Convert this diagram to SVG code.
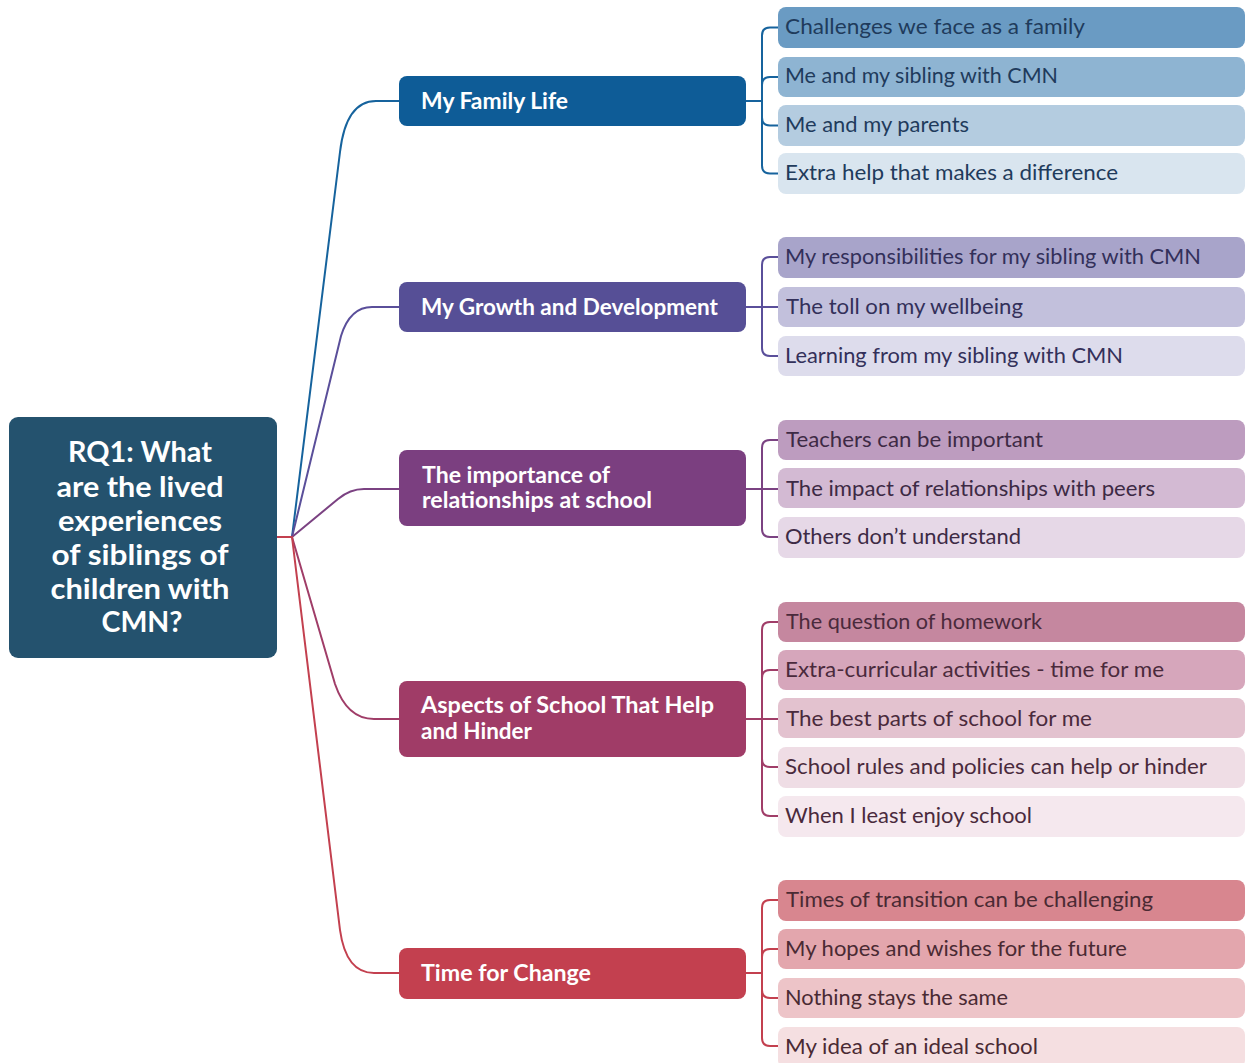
<svg xmlns="http://www.w3.org/2000/svg" width="1245" height="1063" viewBox="0 0 1245 1063">
  <style>
    .root-box { fill: #24526e; }
    .root-txt { font-family: "Lato", "Open Sans", "Liberation Sans", sans-serif; font-weight: 700; font-size: 28px; fill: #ffffff; text-anchor: middle; }
    .br-txt { font-family: "Lato", "Open Sans", "Liberation Sans", sans-serif; font-weight: 700; font-size: 22px; fill: #ffffff; }
    .leaf-txt { font-family: "Lato", "Open Sans", "Liberation Sans", sans-serif; font-weight: 400; font-size: 22px; }
    .link { fill: none; stroke-width: 2; stroke-linecap: round; stroke-linejoin: round; }
    .c-fam { stroke: #16639d; }
    .c-grw { stroke: #5a4f9a; }
    .c-imp { stroke: #7b4282; }
    .c-asp { stroke: #a03d68; }
    .c-tfc { stroke: #c3404f; }
    .t-fam { fill: #1f3b5c; }
    .t-grw { fill: #33305a; }
    .t-imp { fill: #3d2a45; }
    .t-asp { fill: #4a2a3c; }
    .t-tfc { fill: #4a2a33; }
  </style>

  <!-- connectors -->
  <g id="connectors">
    <!-- root stub and fan-out -->
    <path class="link c-tfc" d="M277,537 H292"/>
    <path class="link c-fam" d="M292,537 L340,152 Q346,101 376,101 H399"/>
    <path class="link c-grw" d="M292,537 L341,336 Q350,307 372,307 H399"/>
    <path class="link c-imp" d="M292,537 L338,499 Q350,489 364,489 H399"/>
    <path class="link c-asp" d="M292,537 L335,684 Q347,719 374,719 H399"/>
    <path class="link c-tfc" d="M292,537 L340,930 Q346,973 374,973 H399"/>

    <!-- My Family Life brackets -->
    <path class="link c-fam" d="M746,101 H762"/>
    <path class="link c-fam" d="M778,27.5 H770 Q762,27.5 762,35.5 V165.5 Q762,173.5 770,173.5 H778"/>
    <path class="link c-fam" d="M762,85 Q762,77 770,77 H778"/>
    <path class="link c-fam" d="M762,117.5 Q762,125.5 770,125.5 H778"/>

    <!-- My Growth and Development brackets -->
    <path class="link c-grw" d="M746,307 H778"/>
    <path class="link c-grw" d="M778,257 H770 Q762,257 762,265 V348 Q762,356 770,356 H778"/>

    <!-- Relationships brackets -->
    <path class="link c-imp" d="M746,489 H778"/>
    <path class="link c-imp" d="M778,440 H770 Q762,440 762,448 V529 Q762,537 770,537 H778"/>

    <!-- Aspects of School brackets -->
    <path class="link c-asp" d="M746,719 H778"/>
    <path class="link c-asp" d="M778,622 H770 Q762,622 762,630 V808 Q762,816 770,816 H778"/>
    <path class="link c-asp" d="M762,678 Q762,670 770,670 H778"/>
    <path class="link c-asp" d="M762,759 Q762,767 770,767 H778"/>

    <!-- Time for Change brackets -->
    <path class="link c-tfc" d="M746,973 H762"/>
    <path class="link c-tfc" d="M778,900 H770 Q762,900 762,908 V1038 Q762,1046 770,1046 H778"/>
    <path class="link c-tfc" d="M762,957 Q762,949 770,949 H778"/>
    <path class="link c-tfc" d="M762,990 Q762,998 770,998 H778"/>
  </g>

  <!-- central question -->
  <g id="root">
    <rect class="root-box" x="9" y="417" width="268" height="241" rx="9"/>
    <text class="root-txt" x="140" y="462" textLength="144" lengthAdjust="spacingAndGlyphs">RQ1: What</text>
    <text class="root-txt" x="140" y="497" textLength="167" lengthAdjust="spacingAndGlyphs">are the lived</text>
    <text class="root-txt" x="140" y="531" textLength="164" lengthAdjust="spacingAndGlyphs">experiences</text>
    <text class="root-txt" x="140" y="565" textLength="177" lengthAdjust="spacingAndGlyphs">of siblings of</text>
    <text class="root-txt" x="140" y="599" textLength="179" lengthAdjust="spacingAndGlyphs">children with</text>
    <text class="root-txt" x="142" y="632" textLength="81" lengthAdjust="spacingAndGlyphs">CMN?</text>
  </g>

  <!-- themes -->
  <g id="theme-family">
    <rect x="399" y="76" width="347" height="50" rx="8" fill="#0e5c97"/>
    <text class="br-txt" x="421" y="109" textLength="147" lengthAdjust="spacingAndGlyphs">My Family Life</text>
  </g>
  <g id="theme-growth">
    <rect x="399" y="282" width="347" height="50" rx="8" fill="#564f96"/>
    <text class="br-txt" x="421" y="315" textLength="297" lengthAdjust="spacingAndGlyphs">My Growth and Development</text>
  </g>
  <g id="theme-relationships">
    <rect x="399" y="450" width="347" height="76" rx="8" fill="#7b3f80"/>
    <text class="br-txt" x="422" y="483" textLength="188" lengthAdjust="spacingAndGlyphs">The importance of</text>
    <text class="br-txt" x="422" y="508" textLength="230" lengthAdjust="spacingAndGlyphs">relationships at school</text>
  </g>
  <g id="theme-school">
    <rect x="399" y="681" width="347" height="76" rx="8" fill="#a03c67"/>
    <text class="br-txt" x="421" y="713" textLength="293" lengthAdjust="spacingAndGlyphs">Aspects of School That Help</text>
    <text class="br-txt" x="421" y="739" textLength="111" lengthAdjust="spacingAndGlyphs">and Hinder</text>
  </g>
  <g id="theme-change">
    <rect x="399" y="948" width="347" height="51" rx="8" fill="#c3404f"/>
    <text class="br-txt" x="421" y="981" textLength="170" lengthAdjust="spacingAndGlyphs">Time for Change</text>
  </g>

  <!-- sub-themes: My Family Life -->
  <g id="fam-1">
    <rect x="778" y="7" width="467" height="41" rx="8" fill="#6a9bc3"/>
    <text class="leaf-txt t-fam" x="785" y="34" textLength="300" lengthAdjust="spacingAndGlyphs">Challenges we face as a family</text>
  </g>
  <g id="fam-2">
    <rect x="778" y="57" width="467" height="40" rx="8" fill="#8eb4d2"/>
    <text class="leaf-txt t-fam" x="785" y="83" textLength="273" lengthAdjust="spacingAndGlyphs">Me and my sibling with CMN</text>
  </g>
  <g id="fam-3">
    <rect x="778" y="105" width="467" height="41" rx="8" fill="#b4cce0"/>
    <text class="leaf-txt t-fam" x="785" y="132" textLength="184" lengthAdjust="spacingAndGlyphs">Me and my parents</text>
  </g>
  <g id="fam-4">
    <rect x="778" y="153" width="467" height="41" rx="8" fill="#d9e5ef"/>
    <text class="leaf-txt t-fam" x="785" y="180" textLength="333" lengthAdjust="spacingAndGlyphs">Extra help that makes a difference</text>
  </g>

  <!-- sub-themes: My Growth and Development -->
  <g id="grw-1">
    <rect x="778" y="237" width="467" height="41" rx="8" fill="#a8a4ca"/>
    <text class="leaf-txt t-grw" x="785" y="264" textLength="416" lengthAdjust="spacingAndGlyphs">My responsibilities for my sibling with CMN</text>
  </g>
  <g id="grw-2">
    <rect x="778" y="287" width="467" height="40" rx="8" fill="#c2c0dc"/>
    <text class="leaf-txt t-grw" x="786" y="314" textLength="237" lengthAdjust="spacingAndGlyphs">The toll on my wellbeing</text>
  </g>
  <g id="grw-3">
    <rect x="778" y="336" width="467" height="40" rx="8" fill="#dddcec"/>
    <text class="leaf-txt t-grw" x="785" y="363" textLength="338" lengthAdjust="spacingAndGlyphs">Learning from my sibling with CMN</text>
  </g>

  <!-- sub-themes: relationships at school -->
  <g id="imp-1">
    <rect x="778" y="420" width="467" height="40" rx="8" fill="#bd9cbf"/>
    <text class="leaf-txt t-imp" x="786" y="447" textLength="257" lengthAdjust="spacingAndGlyphs">Teachers can be important</text>
  </g>
  <g id="imp-2">
    <rect x="778" y="468" width="467" height="40" rx="8" fill="#d3bad3"/>
    <text class="leaf-txt t-imp" x="786" y="496" textLength="369" lengthAdjust="spacingAndGlyphs">The impact of relationships with peers</text>
  </g>
  <g id="imp-3">
    <rect x="778" y="517" width="467" height="41" rx="8" fill="#e6d8e7"/>
    <text class="leaf-txt t-imp" x="785" y="544" textLength="236" lengthAdjust="spacingAndGlyphs">Others don’t understand</text>
  </g>

  <!-- sub-themes: Aspects of School -->
  <g id="asp-1">
    <rect x="778" y="602" width="467" height="40" rx="8" fill="#c5879f"/>
    <text class="leaf-txt t-asp" x="786" y="629" textLength="256" lengthAdjust="spacingAndGlyphs">The question of homework</text>
  </g>
  <g id="asp-2">
    <rect x="778" y="650" width="467" height="40" rx="8" fill="#d6a6bb"/>
    <text class="leaf-txt t-asp" x="785" y="677" textLength="379" lengthAdjust="spacingAndGlyphs">Extra-curricular activities - time for me</text>
  </g>
  <g id="asp-3">
    <rect x="778" y="698" width="467" height="40" rx="8" fill="#e3c2cf"/>
    <text class="leaf-txt t-asp" x="786" y="726" textLength="306" lengthAdjust="spacingAndGlyphs">The best parts of school for me</text>
  </g>
  <g id="asp-4">
    <rect x="778" y="747" width="467" height="41" rx="8" fill="#efdde5"/>
    <text class="leaf-txt t-asp" x="785" y="774" textLength="422" lengthAdjust="spacingAndGlyphs">School rules and policies can help or hinder</text>
  </g>
  <g id="asp-5">
    <rect x="778" y="796" width="467" height="41" rx="8" fill="#f5e8ee"/>
    <text class="leaf-txt t-asp" x="785" y="823" textLength="247" lengthAdjust="spacingAndGlyphs">When I least enjoy school</text>
  </g>

  <!-- sub-themes: Time for Change -->
  <g id="tfc-1">
    <rect x="778" y="880" width="467" height="41" rx="8" fill="#d8868f"/>
    <text class="leaf-txt t-tfc" x="786" y="907" textLength="367" lengthAdjust="spacingAndGlyphs">Times of transition can be challenging</text>
  </g>
  <g id="tfc-2">
    <rect x="778" y="929" width="467" height="40" rx="8" fill="#e3a6ad"/>
    <text class="leaf-txt t-tfc" x="785" y="956" textLength="342" lengthAdjust="spacingAndGlyphs">My hopes and wishes for the future</text>
  </g>
  <g id="tfc-3">
    <rect x="778" y="978" width="467" height="40" rx="8" fill="#edc4c8"/>
    <text class="leaf-txt t-tfc" x="785" y="1005" textLength="223" lengthAdjust="spacingAndGlyphs">Nothing stays the same</text>
  </g>
  <g id="tfc-4">
    <rect x="778" y="1027" width="467" height="41" rx="8" fill="#f5dfe1"/>
    <text class="leaf-txt t-tfc" x="785" y="1054" textLength="253" lengthAdjust="spacingAndGlyphs">My idea of an ideal school</text>
  </g>
</svg>
